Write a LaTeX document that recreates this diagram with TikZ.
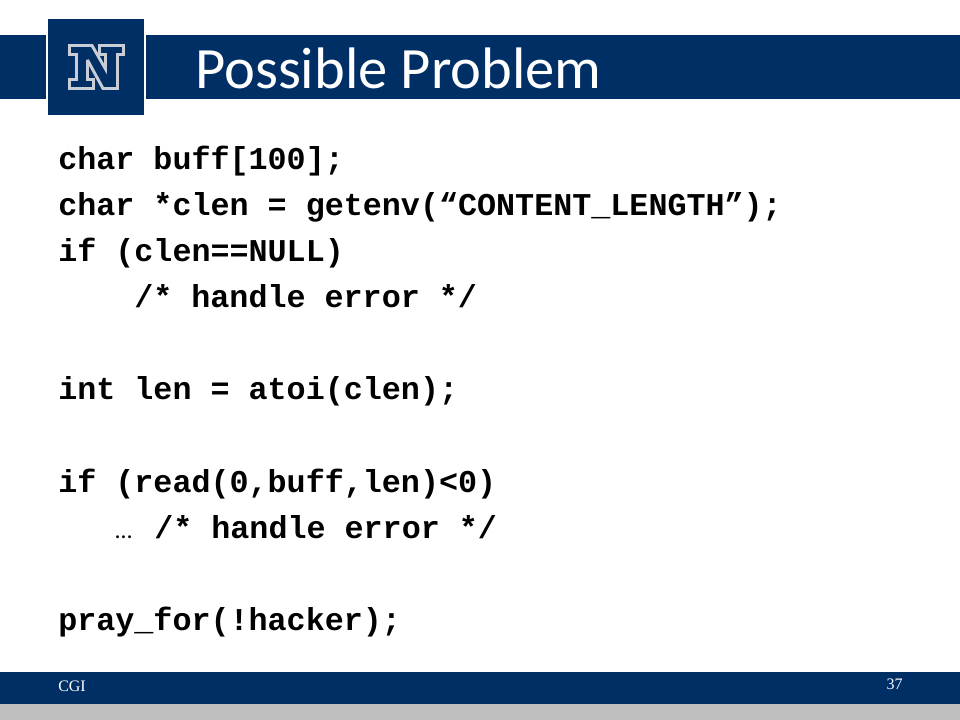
\documentclass[tikz,border=0pt]{standalone}
\usepackage{fontspec}
\setmainfont{Carlito}
\setmonofont{Liberation Mono}
\newfontfamily\footfont{Liberation Serif}
\usetikzlibrary{positioning}
\definecolor{navy}{HTML}{002F66}
\definecolor{footgrey}{HTML}{BFBFBF}
\definecolor{logogrey}{HTML}{C8CDD6}
\tikzset{
	band/.style={fill=navy,draw=none},
	codeline/.style={font=\ttfamily\bfseries\fontsize{23.8pt}{24pt}\selectfont,inner sep=0pt,anchor=base west,text=black},
	nextline/.style={codeline,below=34.5pt of #1.base west,anchor=base west},
	footer/.style={font=\footfont\fontsize{12pt}{12pt}\selectfont,text=white,inner sep=0pt}
}
\begin{document}
\begin{tikzpicture}[x=0.75pt,y=-0.75pt]
	\useasboundingbox (0,0) rectangle (960,720);
	% header
	\fill[band] (0,35) rectangle (46,99);
	\fill[band] (146,35) rectangle (960,99);
	\fill[band] (48,19) rectangle (144,115);
	\draw[logogrey,fill=navy,line width=2.2pt,miter limit=4]
		(69.5,45.5) -- (92,45.5) -- (105.5,69) -- (105.5,54.5) -- (99.5,54.5) -- (99.5,45.5) -- (123.5,45.5)
		-- (123.5,54.5) -- (117.5,54.5) -- (117.5,88.5) -- (103,88.5) -- (87.5,60) -- (87.5,79.5) -- (93.5,79.5)
		-- (93.5,88.5) -- (69.5,88.5) -- (69.5,79.5) -- (76.5,79.5) -- (76.5,54.5) -- (69.5,54.5) -- cycle;
	\node[text=white,font=\fontsize{43.9pt}{44pt}\selectfont,inner sep=0pt,anchor=base west] (title) at (195,89) {Possible Problem};
	% code
	\node[codeline] (l1) at (58,169.5) {char buff[100];};
	\node[nextline=l1] (l2) {char *clen = getenv(“CONTENT\_LENGTH”);};
	\node[nextline=l2] (l3) {if (clen==NULL)};
	\node[nextline=l3,xshift=57pt] (l4) {/* handle error */};
	\node[codeline] (l5) at (58,399) {int len = atoi(clen);};
	\node[codeline] (l6) at (58,492) {if (read(0,buff,len)<0)};
	\node[nextline=l6,xshift=72pt] (l7) {/* handle error */};
	\node[font=\fontsize{18pt}{18pt}\selectfont,inner sep=0pt,anchor=base west] (dots) at (115,538) {…};
	\node[codeline] (l8) at (58,630) {pray\_for(!hacker);};
	% footer
	\fill[band] (0,672) rectangle (960,704);
	\fill[footgrey] (0,704) rectangle (960,720);
	\node[footer,anchor=base west] (topic) at (58,691) {CGI};
	\node[footer,anchor=base east] (pagenum) at (903,689) {37};
\end{tikzpicture}
\end{document}
